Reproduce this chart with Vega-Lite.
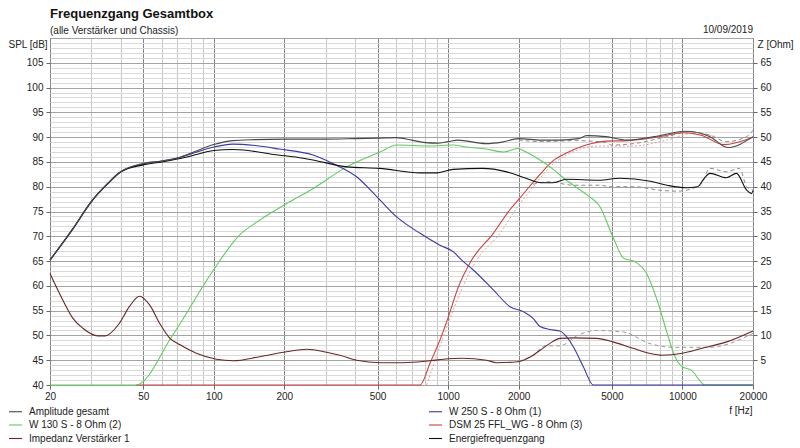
{
  "$schema": "https://vega.github.io/schema/vega-lite/v6.json",
  "width": 703,
  "height": 347,
  "autosize": "none",
  "padding": {"left": 50, "top": 38, "right": 47, "bottom": 63},
  "background": "white",
  "title": {
    "text": "Frequenzgang Gesamtbox",
    "subtitle": "(alle Verstärker und Chassis)",
    "anchor": "start",
    "frame": "group",
    "font": "Liberation Sans",
    "fontSize": 13,
    "fontWeight": "bold",
    "color": "#111111",
    "subtitleFont": "Liberation Sans",
    "subtitleFontSize": 10,
    "subtitleColor": "#222222",
    "subtitlePadding": 5,
    "offset": 4,
    "dy": 15
  },
  "config": {
    "font": "Liberation Sans",
    "view": {"stroke": "#7a7a7a"},
    "axis": {
      "labelFont": "Liberation Sans",
      "labelFontSize": 10,
      "labelColor": "#222222",
      "titleFont": "Liberation Sans",
      "titleFontSize": 10,
      "titleFontWeight": "normal",
      "titleColor": "#222222",
      "tickColor": "#666666",
      "tickSize": 4,
      "domain": false,
      "labelFlush": false,
      "labelOverlap": false
    },
    "line": {"strokeWidth": 1.1, "interpolate": "monotone"}
  },
  "datasets": {
    "amp": [
      {"series": "Amplitude gesamt", "f": 20, "v": 65.2},
      {"series": "Amplitude gesamt", "f": 25, "v": 71.5},
      {"series": "Amplitude gesamt", "f": 30, "v": 77.0},
      {"series": "Amplitude gesamt", "f": 35, "v": 80.5},
      {"series": "Amplitude gesamt", "f": 40, "v": 83.0},
      {"series": "Amplitude gesamt", "f": 50, "v": 84.7},
      {"series": "Amplitude gesamt", "f": 60, "v": 85.2},
      {"series": "Amplitude gesamt", "f": 70, "v": 85.8},
      {"series": "Amplitude gesamt", "f": 80, "v": 86.8},
      {"series": "Amplitude gesamt", "f": 100, "v": 88.5},
      {"series": "Amplitude gesamt", "f": 120, "v": 89.3},
      {"series": "Amplitude gesamt", "f": 150, "v": 89.5},
      {"series": "Amplitude gesamt", "f": 200, "v": 89.6},
      {"series": "Amplitude gesamt", "f": 300, "v": 89.6},
      {"series": "Amplitude gesamt", "f": 400, "v": 89.7},
      {"series": "Amplitude gesamt", "f": 500, "v": 89.8},
      {"series": "Amplitude gesamt", "f": 600, "v": 89.9},
      {"series": "Amplitude gesamt", "f": 700, "v": 89.4},
      {"series": "Amplitude gesamt", "f": 800, "v": 88.9},
      {"series": "Amplitude gesamt", "f": 900, "v": 88.8},
      {"series": "Amplitude gesamt", "f": 1000, "v": 89.1},
      {"series": "Amplitude gesamt", "f": 1100, "v": 89.4},
      {"series": "Amplitude gesamt", "f": 1450, "v": 88.7},
      {"series": "Amplitude gesamt", "f": 1700, "v": 89.0},
      {"series": "Amplitude gesamt", "f": 2000, "v": 89.7},
      {"series": "Amplitude gesamt", "f": 2500, "v": 89.4},
      {"series": "Amplitude gesamt", "f": 3000, "v": 89.4},
      {"series": "Amplitude gesamt", "f": 3600, "v": 89.7},
      {"series": "Amplitude gesamt", "f": 3900, "v": 90.3},
      {"series": "Amplitude gesamt", "f": 4700, "v": 90.1},
      {"series": "Amplitude gesamt", "f": 5800, "v": 89.4},
      {"series": "Amplitude gesamt", "f": 7600, "v": 90.1},
      {"series": "Amplitude gesamt", "f": 10300, "v": 91.2},
      {"series": "Amplitude gesamt", "f": 13100, "v": 90.1},
      {"series": "Amplitude gesamt", "f": 15600, "v": 87.9},
      {"series": "Amplitude gesamt", "f": 20000, "v": 90.1}
    ],
    "energy": [
      {"series": "Energiefrequenzgang", "f": 20, "v": 65.2},
      {"series": "Energiefrequenzgang", "f": 25, "v": 71.5},
      {"series": "Energiefrequenzgang", "f": 30, "v": 77.0},
      {"series": "Energiefrequenzgang", "f": 35, "v": 80.5},
      {"series": "Energiefrequenzgang", "f": 40, "v": 83.0},
      {"series": "Energiefrequenzgang", "f": 50, "v": 84.4},
      {"series": "Energiefrequenzgang", "f": 60, "v": 85.0},
      {"series": "Energiefrequenzgang", "f": 70, "v": 85.6},
      {"series": "Energiefrequenzgang", "f": 80, "v": 86.2},
      {"series": "Energiefrequenzgang", "f": 100, "v": 87.3},
      {"series": "Energiefrequenzgang", "f": 120, "v": 87.5},
      {"series": "Energiefrequenzgang", "f": 140, "v": 87.3},
      {"series": "Energiefrequenzgang", "f": 180, "v": 86.5},
      {"series": "Energiefrequenzgang", "f": 230, "v": 85.9},
      {"series": "Energiefrequenzgang", "f": 265, "v": 85.4},
      {"series": "Energiefrequenzgang", "f": 370, "v": 84.0},
      {"series": "Energiefrequenzgang", "f": 510, "v": 83.7},
      {"series": "Energiefrequenzgang", "f": 760, "v": 82.8},
      {"series": "Energiefrequenzgang", "f": 900, "v": 82.8},
      {"series": "Energiefrequenzgang", "f": 1050, "v": 83.5},
      {"series": "Energiefrequenzgang", "f": 1400, "v": 83.7},
      {"series": "Energiefrequenzgang", "f": 1780, "v": 83.0},
      {"series": "Energiefrequenzgang", "f": 2150, "v": 81.7},
      {"series": "Energiefrequenzgang", "f": 2500, "v": 80.8},
      {"series": "Energiefrequenzgang", "f": 2800, "v": 80.8},
      {"series": "Energiefrequenzgang", "f": 3200, "v": 81.5},
      {"series": "Energiefrequenzgang", "f": 4400, "v": 81.3},
      {"series": "Energiefrequenzgang", "f": 5400, "v": 81.7},
      {"series": "Energiefrequenzgang", "f": 7300, "v": 81.1},
      {"series": "Energiefrequenzgang", "f": 8600, "v": 80.3},
      {"series": "Energiefrequenzgang", "f": 10300, "v": 79.8},
      {"series": "Energiefrequenzgang", "f": 11600, "v": 80.0},
      {"series": "Energiefrequenzgang", "f": 12300, "v": 81.5},
      {"series": "Energiefrequenzgang", "f": 13100, "v": 82.7},
      {"series": "Energiefrequenzgang", "f": 15400, "v": 81.8},
      {"series": "Energiefrequenzgang", "f": 17000, "v": 82.7},
      {"series": "Energiefrequenzgang", "f": 18800, "v": 79.3},
      {"series": "Energiefrequenzgang", "f": 19700, "v": 78.6},
      {"series": "Energiefrequenzgang", "f": 20000, "v": 79.2}
    ],
    "w250": [
      {"series": "W 250 S - 8 Ohm  (1)", "f": 20, "v": 65.2},
      {"series": "W 250 S - 8 Ohm  (1)", "f": 25, "v": 71.4},
      {"series": "W 250 S - 8 Ohm  (1)", "f": 30, "v": 76.9},
      {"series": "W 250 S - 8 Ohm  (1)", "f": 35, "v": 80.4},
      {"series": "W 250 S - 8 Ohm  (1)", "f": 40, "v": 82.9},
      {"series": "W 250 S - 8 Ohm  (1)", "f": 50, "v": 84.6},
      {"series": "W 250 S - 8 Ohm  (1)", "f": 60, "v": 85.2},
      {"series": "W 250 S - 8 Ohm  (1)", "f": 70, "v": 85.8},
      {"series": "W 250 S - 8 Ohm  (1)", "f": 80, "v": 86.6},
      {"series": "W 250 S - 8 Ohm  (1)", "f": 100, "v": 88.0},
      {"series": "W 250 S - 8 Ohm  (1)", "f": 120, "v": 88.6},
      {"series": "W 250 S - 8 Ohm  (1)", "f": 150, "v": 88.3},
      {"series": "W 250 S - 8 Ohm  (1)", "f": 190, "v": 87.6},
      {"series": "W 250 S - 8 Ohm  (1)", "f": 265, "v": 86.4},
      {"series": "W 250 S - 8 Ohm  (1)", "f": 322, "v": 84.7},
      {"series": "W 250 S - 8 Ohm  (1)", "f": 407, "v": 82.0},
      {"series": "W 250 S - 8 Ohm  (1)", "f": 496, "v": 78.0},
      {"series": "W 250 S - 8 Ohm  (1)", "f": 603, "v": 73.9},
      {"series": "W 250 S - 8 Ohm  (1)", "f": 759, "v": 70.6},
      {"series": "W 250 S - 8 Ohm  (1)", "f": 923, "v": 68.2},
      {"series": "W 250 S - 8 Ohm  (1)", "f": 1050, "v": 66.9},
      {"series": "W 250 S - 8 Ohm  (1)", "f": 1143, "v": 65.2},
      {"series": "W 250 S - 8 Ohm  (1)", "f": 1281, "v": 63.2},
      {"series": "W 250 S - 8 Ohm  (1)", "f": 1559, "v": 59.2},
      {"series": "W 250 S - 8 Ohm  (1)", "f": 1837, "v": 55.8},
      {"series": "W 250 S - 8 Ohm  (1)", "f": 2093, "v": 54.8},
      {"series": "W 250 S - 8 Ohm  (1)", "f": 2309, "v": 53.4},
      {"series": "W 250 S - 8 Ohm  (1)", "f": 2467, "v": 51.8},
      {"series": "W 250 S - 8 Ohm  (1)", "f": 2721, "v": 51.2},
      {"series": "W 250 S - 8 Ohm  (1)", "f": 3001, "v": 50.9},
      {"series": "W 250 S - 8 Ohm  (1)", "f": 3206, "v": 49.7},
      {"series": "W 250 S - 8 Ohm  (1)", "f": 3421, "v": 47.7},
      {"series": "W 250 S - 8 Ohm  (1)", "f": 3775, "v": 43.7},
      {"series": "W 250 S - 8 Ohm  (1)", "f": 4165, "v": 40.0},
      {"series": "W 250 S - 8 Ohm  (1)", "f": 20000, "v": 40.0}
    ],
    "w130": [
      {"series": "W 130 S - 8 Ohm (2)", "f": 20, "v": 40.0},
      {"series": "W 130 S - 8 Ohm (2)", "f": 46.5, "v": 40.0},
      {"series": "W 130 S - 8 Ohm (2)", "f": 67, "v": 50.2},
      {"series": "W 130 S - 8 Ohm (2)", "f": 100, "v": 63.3},
      {"series": "W 130 S - 8 Ohm (2)", "f": 129, "v": 70.3},
      {"series": "W 130 S - 8 Ohm (2)", "f": 153, "v": 72.9},
      {"series": "W 130 S - 8 Ohm (2)", "f": 203, "v": 76.5},
      {"series": "W 130 S - 8 Ohm (2)", "f": 265, "v": 79.6},
      {"series": "W 130 S - 8 Ohm (2)", "f": 369, "v": 84.0},
      {"series": "W 130 S - 8 Ohm (2)", "f": 512, "v": 87.0},
      {"series": "W 130 S - 8 Ohm (2)", "f": 603, "v": 88.4},
      {"series": "W 130 S - 8 Ohm (2)", "f": 837, "v": 88.2},
      {"series": "W 130 S - 8 Ohm (2)", "f": 1050, "v": 88.4},
      {"series": "W 130 S - 8 Ohm (2)", "f": 1200, "v": 88.0},
      {"series": "W 130 S - 8 Ohm (2)", "f": 1450, "v": 87.6},
      {"series": "W 130 S - 8 Ohm (2)", "f": 1730, "v": 87.0},
      {"series": "W 130 S - 8 Ohm (2)", "f": 1980, "v": 87.7},
      {"series": "W 130 S - 8 Ohm (2)", "f": 2150, "v": 87.0},
      {"series": "W 130 S - 8 Ohm (2)", "f": 2467, "v": 85.4},
      {"series": "W 130 S - 8 Ohm (2)", "f": 2721, "v": 84.0},
      {"series": "W 130 S - 8 Ohm (2)", "f": 3200, "v": 81.3},
      {"series": "W 130 S - 8 Ohm (2)", "f": 4000, "v": 78.0},
      {"series": "W 130 S - 8 Ohm (2)", "f": 4400, "v": 76.3},
      {"series": "W 130 S - 8 Ohm (2)", "f": 5050, "v": 69.9},
      {"series": "W 130 S - 8 Ohm (2)", "f": 5600, "v": 65.6},
      {"series": "W 130 S - 8 Ohm (2)", "f": 6300, "v": 64.8},
      {"series": "W 130 S - 8 Ohm (2)", "f": 7030, "v": 62.5},
      {"series": "W 130 S - 8 Ohm (2)", "f": 7800, "v": 57.1},
      {"series": "W 130 S - 8 Ohm (2)", "f": 8700, "v": 49.7},
      {"series": "W 130 S - 8 Ohm (2)", "f": 9300, "v": 45.7},
      {"series": "W 130 S - 8 Ohm (2)", "f": 9970, "v": 43.7},
      {"series": "W 130 S - 8 Ohm (2)", "f": 10900, "v": 43.0},
      {"series": "W 130 S - 8 Ohm (2)", "f": 12500, "v": 40.0},
      {"series": "W 130 S - 8 Ohm (2)", "f": 20000, "v": 40.0}
    ],
    "dsm": [
      {"series": "DSM 25 FFL_WG - 8 Ohm (3)", "f": 46.5, "v": 40.0},
      {"series": "DSM 25 FFL_WG - 8 Ohm (3)", "f": 759, "v": 40.0},
      {"series": "DSM 25 FFL_WG - 8 Ohm (3)", "f": 837, "v": 44.4},
      {"series": "DSM 25 FFL_WG - 8 Ohm (3)", "f": 923, "v": 49.1},
      {"series": "DSM 25 FFL_WG - 8 Ohm (3)", "f": 1000, "v": 53.6},
      {"series": "DSM 25 FFL_WG - 8 Ohm (3)", "f": 1100, "v": 59.5},
      {"series": "DSM 25 FFL_WG - 8 Ohm (3)", "f": 1260, "v": 65.2},
      {"series": "DSM 25 FFL_WG - 8 Ohm (3)", "f": 1559, "v": 70.6},
      {"series": "DSM 25 FFL_WG - 8 Ohm (3)", "f": 1837, "v": 75.4},
      {"series": "DSM 25 FFL_WG - 8 Ohm (3)", "f": 2030, "v": 77.8},
      {"series": "DSM 25 FFL_WG - 8 Ohm (3)", "f": 2467, "v": 82.5},
      {"series": "DSM 25 FFL_WG - 8 Ohm (3)", "f": 2800, "v": 85.2},
      {"series": "DSM 25 FFL_WG - 8 Ohm (3)", "f": 3200, "v": 86.8},
      {"series": "DSM 25 FFL_WG - 8 Ohm (3)", "f": 3880, "v": 88.4},
      {"series": "DSM 25 FFL_WG - 8 Ohm (3)", "f": 4700, "v": 89.2},
      {"series": "DSM 25 FFL_WG - 8 Ohm (3)", "f": 5800, "v": 89.3},
      {"series": "DSM 25 FFL_WG - 8 Ohm (3)", "f": 7030, "v": 89.7},
      {"series": "DSM 25 FFL_WG - 8 Ohm (3)", "f": 8200, "v": 90.2},
      {"series": "DSM 25 FFL_WG - 8 Ohm (3)", "f": 10000, "v": 90.9},
      {"series": "DSM 25 FFL_WG - 8 Ohm (3)", "f": 12000, "v": 90.4},
      {"series": "DSM 25 FFL_WG - 8 Ohm (3)", "f": 15000, "v": 88.5},
      {"series": "DSM 25 FFL_WG - 8 Ohm (3)", "f": 20000, "v": 90.0}
    ],
    "imp": [
      {"series": "Impedanz Verstärker 1", "f": 20, "v": 22.5},
      {"series": "Impedanz Verstärker 1", "f": 22.7, "v": 17.1},
      {"series": "Impedanz Verstärker 1", "f": 25.1, "v": 13.4},
      {"series": "Impedanz Verstärker 1", "f": 27.7, "v": 11.4},
      {"series": "Impedanz Verstärker 1", "f": 32, "v": 9.9},
      {"series": "Impedanz Verstärker 1", "f": 34.3, "v": 9.9},
      {"series": "Impedanz Verstärker 1", "f": 39.5, "v": 12.4},
      {"series": "Impedanz Verstärker 1", "f": 43.6, "v": 15.8},
      {"series": "Impedanz Verstärker 1", "f": 48.2, "v": 17.9},
      {"series": "Impedanz Verstärker 1", "f": 53.3, "v": 16.1},
      {"series": "Impedanz Verstärker 1", "f": 58.8, "v": 12.4},
      {"series": "Impedanz Verstärker 1", "f": 65, "v": 9.4},
      {"series": "Impedanz Verstärker 1", "f": 71.8, "v": 8.1},
      {"series": "Impedanz Verstärker 1", "f": 84.2, "v": 6.4},
      {"series": "Impedanz Verstärker 1", "f": 102.6, "v": 5.2},
      {"series": "Impedanz Verstärker 1", "f": 121, "v": 4.9},
      {"series": "Impedanz Verstärker 1", "f": 157, "v": 5.7},
      {"series": "Impedanz Verstärker 1", "f": 204, "v": 6.7},
      {"series": "Impedanz Verstärker 1", "f": 249, "v": 7.2},
      {"series": "Impedanz Verstärker 1", "f": 303, "v": 6.6},
      {"series": "Impedanz Verstärker 1", "f": 345, "v": 6.0},
      {"series": "Impedanz Verstärker 1", "f": 407, "v": 5.0},
      {"series": "Impedanz Verstärker 1", "f": 512, "v": 4.5},
      {"series": "Impedanz Verstärker 1", "f": 643, "v": 4.5},
      {"series": "Impedanz Verstärker 1", "f": 837, "v": 4.9},
      {"series": "Impedanz Verstärker 1", "f": 1000, "v": 5.3},
      {"series": "Impedanz Verstärker 1", "f": 1140, "v": 5.4},
      {"series": "Impedanz Verstärker 1", "f": 1460, "v": 5.0},
      {"series": "Impedanz Verstärker 1", "f": 1611, "v": 4.5},
      {"series": "Impedanz Verstärker 1", "f": 1980, "v": 4.7},
      {"series": "Impedanz Verstärker 1", "f": 2250, "v": 5.7},
      {"series": "Impedanz Verstärker 1", "f": 2467, "v": 7.0},
      {"series": "Impedanz Verstärker 1", "f": 2721, "v": 8.4},
      {"series": "Impedanz Verstärker 1", "f": 3001, "v": 9.4},
      {"series": "Impedanz Verstärker 1", "f": 3420, "v": 9.5},
      {"series": "Impedanz Verstärker 1", "f": 4300, "v": 9.4},
      {"series": "Impedanz Verstärker 1", "f": 5050, "v": 8.7},
      {"series": "Impedanz Verstärker 1", "f": 6140, "v": 7.4},
      {"series": "Impedanz Verstärker 1", "f": 7220, "v": 6.4},
      {"series": "Impedanz Verstärker 1", "f": 8200, "v": 6.0},
      {"series": "Impedanz Verstärker 1", "f": 9970, "v": 6.4},
      {"series": "Impedanz Verstärker 1", "f": 12100, "v": 7.4},
      {"series": "Impedanz Verstärker 1", "f": 15440, "v": 8.7},
      {"series": "Impedanz Verstärker 1", "f": 20000, "v": 10.9}
    ],
    "refSpl": [
      {"series": "Amplitude Referenz", "f": 2000, "v": 89.4},
      {"series": "Amplitude Referenz", "f": 2500, "v": 89.1},
      {"series": "Amplitude Referenz", "f": 3500, "v": 89.3},
      {"series": "Amplitude Referenz", "f": 4700, "v": 88.9},
      {"series": "Amplitude Referenz", "f": 5000, "v": 88.4},
      {"series": "Amplitude Referenz", "f": 6200, "v": 88.7},
      {"series": "Amplitude Referenz", "f": 8600, "v": 90.1},
      {"series": "Amplitude Referenz", "f": 10700, "v": 91.1},
      {"series": "Amplitude Referenz", "f": 13100, "v": 90.4},
      {"series": "Amplitude Referenz", "f": 15400, "v": 89.1},
      {"series": "Amplitude Referenz", "f": 18800, "v": 90.1},
      {"series": "Amplitude Referenz", "f": 20000, "v": 91.4},
      {"series": "Energie Referenz", "f": 2300, "v": 80.5},
      {"series": "Energie Referenz", "f": 2700, "v": 81.0},
      {"series": "Energie Referenz", "f": 3400, "v": 80.3},
      {"series": "Energie Referenz", "f": 4400, "v": 80.3},
      {"series": "Energie Referenz", "f": 5000, "v": 80.0},
      {"series": "Energie Referenz", "f": 6200, "v": 80.0},
      {"series": "Energie Referenz", "f": 8000, "v": 79.3},
      {"series": "Energie Referenz", "f": 9500, "v": 79.1},
      {"series": "Energie Referenz", "f": 11900, "v": 80.3},
      {"series": "Energie Referenz", "f": 13100, "v": 83.7},
      {"series": "Energie Referenz", "f": 15400, "v": 83.0},
      {"series": "Energie Referenz", "f": 17500, "v": 83.7},
      {"series": "Energie Referenz", "f": 18800, "v": 80.0},
      {"series": "Energie Referenz", "f": 20000, "v": 79.3}
    ],
    "refDsm": [
      {"series": "DSM Referenz", "f": 810, "v": 40.0},
      {"series": "DSM Referenz", "f": 1324, "v": 65.2},
      {"series": "DSM Referenz", "f": 1664, "v": 70.6},
      {"series": "DSM Referenz", "f": 1980, "v": 76.0},
      {"series": "DSM Referenz", "f": 2309, "v": 80.0},
      {"series": "DSM Referenz", "f": 2721, "v": 84.0},
      {"series": "DSM Referenz", "f": 3206, "v": 86.4},
      {"series": "DSM Referenz", "f": 4378, "v": 88.2},
      {"series": "DSM Referenz", "f": 6140, "v": 88.2},
      {"series": "DSM Referenz", "f": 8565, "v": 89.4},
      {"series": "DSM Referenz", "f": 10900, "v": 90.7},
      {"series": "DSM Referenz", "f": 14000, "v": 90.1}
    ],
    "refImp": [
      {"series": "Impedanz Referenz", "f": 2000, "v": 4.8},
      {"series": "Impedanz Referenz", "f": 2300, "v": 6.0},
      {"series": "Impedanz Referenz", "f": 2600, "v": 7.9},
      {"series": "Impedanz Referenz", "f": 3000, "v": 7.9},
      {"series": "Impedanz Referenz", "f": 3600, "v": 10.1},
      {"series": "Impedanz Referenz", "f": 4300, "v": 11.0},
      {"series": "Impedanz Referenz", "f": 5600, "v": 10.7},
      {"series": "Impedanz Referenz", "f": 7200, "v": 8.4},
      {"series": "Impedanz Referenz", "f": 9300, "v": 7.6},
      {"series": "Impedanz Referenz", "f": 13000, "v": 7.6},
      {"series": "Impedanz Referenz", "f": 20000, "v": 10.4}
    ]
  },
  "layer": [
    {
      "layer": [
        {
          "data": {"name": "refSpl"},
          "mark": {"type": "line", "color": "#8c8c8c", "strokeDash": [4, 3], "strokeWidth": 1},
          "encoding": {
            "x": {
              "field": "f",
              "type": "quantitative",
              "scale": {"type": "log", "domain": [20, 20000], "nice": false},
              "axis": {
                "orient": "bottom",
                "grid": true,
                "tickCount": 100,
                "labelOverlap": false,
                "values": [20, 30, 40, 50, 60, 70, 80, 90, 100, 200, 300, 400, 500, 600, 700, 800, 900, 1000, 2000, 3000, 4000, 5000, 6000, 7000, 8000, 9000, 10000, 20000],
                "format": "d",
                "labelExpr": "indexof([20, 50, 100, 200, 500, 1000, 2000, 5000, 10000, 20000], datum.value) >= 0 ? datum.label : ''",
                "gridColor": {"condition": {"test": "indexof([20, 50, 100, 200, 500, 1000, 2000, 5000, 10000, 20000], datum.value) >= 0", "value": "#858585"}, "value": "#c6c6c6"},
                "tickOpacity": {"condition": {"test": "indexof([20, 50, 100, 200, 500, 1000, 2000, 5000, 10000, 20000], datum.value) >= 0", "value": 1}, "value": 0},
                "labelPadding": 2,
                "title": "f [Hz]",
                "titleX": 702,
                "titleY": 25,
                "titleAlign": "right",
                "titleBaseline": "middle"
              }
            },
            "y": {
              "field": "v",
              "type": "quantitative",
              "scale": {"domain": [40, 110], "nice": false, "zero": false},
              "axis": {
                "orient": "left",
                "grid": true,
                "tickCount": 100,
                "format": "d",
                "labelOverlap": false,
                "values": [40, 41, 42, 43, 44, 45, 46, 47, 48, 49, 50, 51, 52, 53, 54, 55, 56, 57, 58, 59, 60, 61, 62, 63, 64, 65, 66, 67, 68, 69, 70, 71, 72, 73, 74, 75, 76, 77, 78, 79, 80, 81, 82, 83, 84, 85, 86, 87, 88, 89, 90, 91, 92, 93, 94, 95, 96, 97, 98, 99, 100, 101, 102, 103, 104, 105, 106, 107, 108, 109, 110],
                "labelExpr": "datum.value % 5 == 0 && datum.value < 110 ? datum.label : ''",
                "gridColor": {"condition": {"test": "datum.value % 5 == 0", "value": "#a3a3a3"}, "value": "#dadada"},
                "tickOpacity": {"condition": {"test": "datum.value % 5 == 0 && datum.value < 110", "value": 1}, "value": 0},
                "labelPadding": 3,
                "title": "SPL [dB]",
                "titleAngle": 0,
                "titleX": -42,
                "titleY": 6,
                "titleAlign": "left",
                "titleBaseline": "middle"
              }
            },
            "detail": {"field": "series"}
          }
        },
        {
          "data": {"name": "refDsm"},
          "mark": {"type": "line", "color": "#e4a0a0", "strokeDash": [2, 2], "strokeWidth": 1},
          "encoding": {
            "x": {"field": "f", "type": "quantitative", "scale": {"type": "log", "domain": [20, 20000], "nice": false}},
            "y": {"field": "v", "type": "quantitative", "scale": {"domain": [40, 110], "nice": false, "zero": false}}
          }
        },
        {
          "data": {"name": "dsm"},
          "mark": {"type": "line"},
          "encoding": {
            "x": {"field": "f", "type": "quantitative", "scale": {"type": "log", "domain": [20, 20000], "nice": false}},
            "y": {"field": "v", "type": "quantitative", "scale": {"domain": [40, 110], "nice": false, "zero": false}},
            "color": {
              "field": "series",
              "type": "nominal",
              "scale": {
                "domain": ["Amplitude gesamt", "W 130 S - 8 Ohm (2)", "Impedanz Verstärker 1", "W 250 S - 8 Ohm  (1)", "DSM 25 FFL_WG - 8 Ohm (3)", "Energiefrequenzgang"],
                "range": ["#484848", "#5fcc5f", "#6a2626", "#3a3aa2", "#c84040", "#101010"]
              },
              "legend": {
                "title": null,
                "orient": "none",
                "legendX": -42,
                "legendY": 366,
                "columns": 2,
                "columnPadding": 296,
                "rowPadding": 0.5,
                "symbolType": "stroke",
                "symbolSize": 169,
                "symbolStrokeWidth": 2,
                "labelFont": "Liberation Sans",
                "labelFontSize": 10,
                "labelColor": "#222222",
                "labelOffset": 6,
                "labelLimit": 300
              }
            }
          }
        },
        {
          "data": {"name": "w130"},
          "mark": {"type": "line"},
          "encoding": {
            "x": {"field": "f", "type": "quantitative", "scale": {"type": "log", "domain": [20, 20000], "nice": false}},
            "y": {"field": "v", "type": "quantitative", "scale": {"domain": [40, 110], "nice": false, "zero": false}},
            "color": {"field": "series", "type": "nominal"}
          }
        },
        {
          "data": {"name": "w250"},
          "mark": {"type": "line"},
          "encoding": {
            "x": {"field": "f", "type": "quantitative", "scale": {"type": "log", "domain": [20, 20000], "nice": false}},
            "y": {"field": "v", "type": "quantitative", "scale": {"domain": [40, 110], "nice": false, "zero": false}},
            "color": {"field": "series", "type": "nominal"}
          }
        },
        {
          "data": {"name": "energy"},
          "mark": {"type": "line"},
          "encoding": {
            "x": {"field": "f", "type": "quantitative", "scale": {"type": "log", "domain": [20, 20000], "nice": false}},
            "y": {"field": "v", "type": "quantitative", "scale": {"domain": [40, 110], "nice": false, "zero": false}},
            "color": {"field": "series", "type": "nominal"}
          }
        },
        {
          "data": {"name": "amp"},
          "mark": {"type": "line"},
          "encoding": {
            "x": {"field": "f", "type": "quantitative", "scale": {"type": "log", "domain": [20, 20000], "nice": false}},
            "y": {"field": "v", "type": "quantitative", "scale": {"domain": [40, 110], "nice": false, "zero": false}},
            "color": {"field": "series", "type": "nominal"}
          }
        },
        {
          "data": {"values": [{"date": "10/09/2019"}]},
          "mark": {"type": "text", "align": "right", "baseline": "alphabetic", "dy": -5, "fontSize": 10, "font": "Liberation Sans", "color": "#222222"},
          "encoding": {
            "x": {"datum": 20000, "type": "quantitative", "scale": {"type": "log", "domain": [20, 20000], "nice": false}},
            "y": {"datum": 110, "type": "quantitative", "scale": {"domain": [40, 110], "nice": false, "zero": false}},
            "text": {"field": "date"}
          }
        }
      ]
    },
    {
      "layer": [
        {
          "data": {"name": "refImp"},
          "mark": {"type": "line", "color": "#9a9a9a", "strokeDash": [4, 3], "strokeWidth": 1},
          "encoding": {
            "x": {"field": "f", "type": "quantitative", "scale": {"type": "log", "domain": [20, 20000], "nice": false}},
            "y": {
              "field": "v",
              "type": "quantitative",
              "scale": {"domain": [0, 70], "nice": false},
              "axis": {
                "orient": "right",
                "grid": false,
                "tickCount": 100,
                "format": "d",
                "labelOverlap": false,
                "values": [5, 10, 15, 20, 25, 30, 35, 40, 45, 50, 55, 60, 65],
                "labelPadding": 3,
                "title": "Z [Ohm]",
                "titleAngle": 0,
                "titleX": 4,
                "titleY": 6,
                "titleAlign": "left",
                "titleBaseline": "middle"
              }
            }
          }
        },
        {
          "data": {"name": "imp"},
          "mark": {"type": "line"},
          "encoding": {
            "x": {"field": "f", "type": "quantitative", "scale": {"type": "log", "domain": [20, 20000], "nice": false}},
            "y": {"field": "v", "type": "quantitative", "scale": {"domain": [0, 70], "nice": false}},
            "color": {"field": "series", "type": "nominal"}
          }
        }
      ]
    }
  ],
  "resolve": {"scale": {"y": "independent"}}
}
